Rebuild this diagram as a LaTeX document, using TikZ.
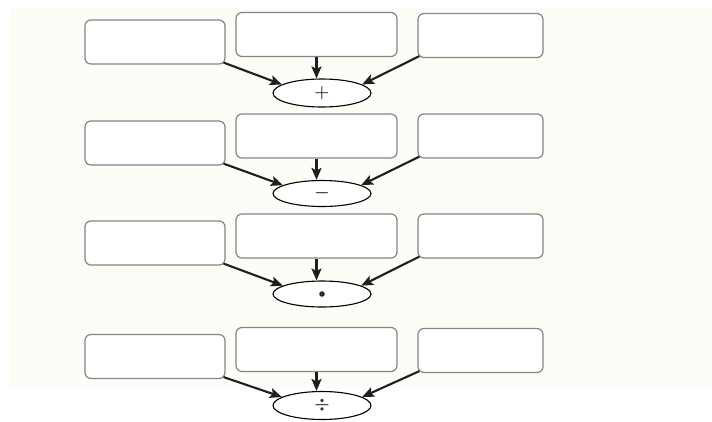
\documentclass[tikz,border=0pt]{standalone}
\usetikzlibrary{arrows.meta,shapes.geometric}

\definecolor{paper}{HTML}{FDFDF7}
\definecolor{boxline}{HTML}{858585}
\definecolor{opsym}{HTML}{262C3C}

\tikzset{
  term/.style={draw=boxline, line width=1.2pt, rounded corners=6pt, fill=white,
               inner sep=0pt, minimum width=#1},
  term/.default=140pt,
  opnode/.style={draw=black, line width=1.1pt, ellipse, fill=white, inner sep=0pt,
                 minimum width=98pt, minimum height=27pt, text=opsym,
                 font=\fontsize{17}{17}\selectfont\boldmath},
  feed/.style={line width=2.1pt, draw=black!88,
               -{Stealth[length=12pt, width=10pt, inset=2.5pt]}},
}

\begin{document}
\begin{tikzpicture}[x=1pt, y=-1pt]
  % page and the faintly tinted sheet
  \fill[white] (0,0) rectangle (712,421);
  \fill[paper] (10,8) rectangle (712,388);
  \useasboundingbox (0,0) rectangle (712,421);

  % one row: three term boxes feeding an operator ellipse
  % #1 row name, #2 left y, #3 middle y, #4 right y, #5 ellipse y,
  % #6 symbol, #7 ellipse height, #8 middle x
  \newcommand{\oprow}[8]{%
    \node[term=140pt, minimum height=44pt] (#1L) at (155,#2) {};
    \node[term=161pt, minimum height=44pt] (#1M) at (#8,#3) {};
    \node[term=125pt, minimum height=44pt] (#1R) at (480.5,#4) {};
    \node[opnode, minimum height=#7] (#1E) at (322,#5) {#6};
    \draw[feed] ([shift={(-2,-2)}]#1L.south east) -- (#1E.168);
    \draw[feed] (#1M.south) -- (#1M.south |- #1E.north);
    \draw[feed] ([shift={(2,-2)}]#1R.south west) -- (#1E.12);
  }

  \oprow{a}{42}{34.5}{35.5}{93}{$+$}{28pt}{316.5}
  \oprow{b}{143}{136}{136}{193.5}{$-$}{26pt}{316.5}
  \oprow{c}{243}{236}{236}{294}{\raisebox{-0.5pt}{\tikz\fill[opsym] (0,0) circle (2.8pt);}}{26pt}{316.5}
  \oprow{d}{356.5}{349.5}{350.5}{405.5}{$\div$}{28pt}{316.5}
\end{tikzpicture}
\end{document}
